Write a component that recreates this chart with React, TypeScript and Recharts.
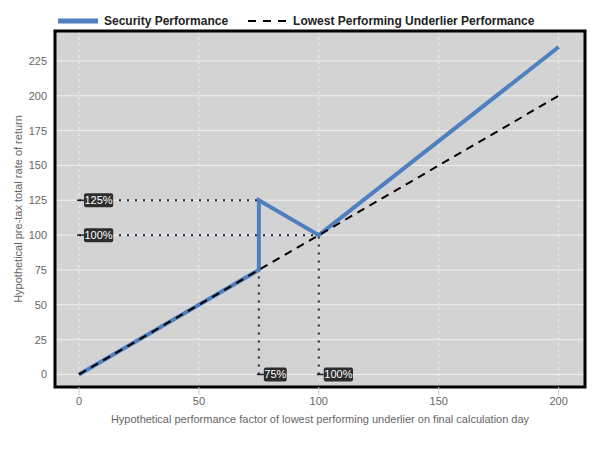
import {
  ComposedChart,
  Line,
  XAxis,
  YAxis,
  CartesianGrid,
  ReferenceLine,
  ReferenceDot,
  ReferenceArea,
  Legend,
} from "recharts";

const xTicks = [0, 50, 100, 150, 200];
const yTicks = [0, 25, 50, 75, 100, 125, 150, 175, 200, 225];

const securityX = [0, 75, 75, 100, 200];
const securityY = [0, 75, 125, 100, 235];
const underlierX = [0, 200];
const underlierY = [0, 200];

// dotted guide segments: [x1, y1, x2, y2]
const guides = [
  [0, 125, 75, 125],
  [0, 100, 100, 100],
  [75, 0, 75, 125],
  [100, 0, 100, 100],
];

const callouts = [
  { x: 0, y: 125, text: "125%" },
  { x: 0, y: 100, text: "100%" },
  { x: 75, y: 0, text: "75%" },
  { x: 100, y: 0, text: "100%" },
];

const securityData = securityX.map((x, i) => ({ x, y: securityY[i] }));
const underlierData = underlierX.map((x, i) => ({ x, y: underlierY[i] }));

const FONT = '"Liberation Sans", Arial, sans-serif';
const BLUE = "#4f7fbf";
const GUIDE = "#1c2140";

function CalloutShape({ cx, cy, text }: { cx?: number; cy?: number; text: string }) {
  if (cx == null || cy == null) return null;
  const w = text.length * 6.3 + 4;
  const bx = cx + 5;
  return (
    <g>
      <line x1={cx - 2} y1={cy} x2={bx} y2={cy} stroke="#222" strokeWidth={1.5} />
      <rect x={bx} y={cy - 7} width={w} height={14} rx={2} fill="#2d2d2d" />
      <text
        x={bx + w / 2}
        y={cy + 4}
        textAnchor="middle"
        fill="#fff"
        fontSize={11}
        fontFamily={FONT}
      >
        {text}
      </text>
    </g>
  );
}

function LegendContent() {
  return (
    <div
      style={{
        height: 21,
        display: "flex",
        alignItems: "center",
        paddingLeft: 58,
        fontFamily: FONT,
        fontWeight: "bold",
        fontSize: 12,
        color: "#222",
        whiteSpace: "nowrap",
      }}
    >
      <svg width={40} height={8}>
        <line x1={0} y1={4} x2={40} y2={4} stroke={BLUE} strokeWidth={5} />
      </svg>
      <span style={{ marginLeft: 6, marginRight: 20 }}>Security Performance</span>
      <svg width={38} height={8}>
        <line x1={0} y1={4} x2={38} y2={4} stroke="#000" strokeWidth={2} strokeDasharray="8 7" />
      </svg>
      <span style={{ marginLeft: 7 }}>Lowest Performing Underlier Performance</span>
    </div>
  );
}

export default function App() {
  return (
    <div style={{ position: "absolute", left: 0, top: 0, width: 601, height: 451, background: "#fff" }}>
      <ComposedChart width={601} height={451} margin={{ top: 10, right: 16, bottom: 24, left: 0 }}>
        <CartesianGrid fill="#d3d3d3" stroke="#eeeeee" vertical={false} />
        <CartesianGrid fill="none" stroke="#eeeeee" strokeDasharray="3 3" horizontal={false} />
        <XAxis
          dataKey="x"
          type="number"
          domain={[-10, 211]}
          ticks={xTicks}
          allowDataOverflow
          axisLine={false}
          tickLine={{ stroke: "#cccccc" }}
          tickSize={8}
          tickMargin={2}
          height={40}
          tick={{ fill: "#666", fontSize: 11, fontFamily: FONT }}
          label={{
            value: "Hypothetical performance factor of lowest performing underlier on final calculation day",
            position: "insideBottom",
            offset: 4,
            fill: "#666",
            fontSize: 11,
            fontFamily: FONT,
          }}
        />
        <YAxis
          type="number"
          domain={[-9, 246.5]}
          ticks={yTicks}
          allowDataOverflow
          axisLine={false}
          tickLine={false}
          tickSize={6}
          tickMargin={2}
          width={55}
          tick={{ fill: "#666", fontSize: 11, fontFamily: FONT }}
          label={{
            value: "Hypothetical pre-tax total rate of return",
            angle: -90,
            position: "insideLeft",
            offset: 18,
            fill: "#666",
            fontSize: 11,
            fontFamily: FONT,
            style: { textAnchor: "middle" },
          }}
        />
        <Legend verticalAlign="top" align="left" content={<LegendContent />} />
        {guides.map((g, i) => (
          <ReferenceLine
            key={i}
            segment={[
              { x: g[0], y: g[1] },
              { x: g[2], y: g[3] },
            ]}
            stroke={GUIDE}
            strokeWidth={2}
            strokeDasharray="2 6"
          />
        ))}
        <Line
          data={securityData}
          dataKey="y"
          type="linear"
          stroke={BLUE}
          strokeWidth={4}
          dot={false}
          activeDot={false}
          isAnimationActive={false}
        />
        <Line
          data={underlierData}
          dataKey="y"
          type="linear"
          stroke="#000"
          strokeWidth={2}
          strokeDasharray="8 6"
          dot={false}
          activeDot={false}
          isAnimationActive={false}
        />
        {callouts.map((c) => (
          <ReferenceDot
            key={c.text + c.x}
            x={c.x}
            y={c.y}
            r={3}
            shape={(p: any) => <CalloutShape cx={p.cx} cy={p.cy} text={c.text} />}
          />
        ))}
        <ReferenceArea x1={-10} x2={211} y1={-9} y2={246.5} fill="none" stroke="#000" strokeWidth={3} />
      </ComposedChart>
    </div>
  );
}
